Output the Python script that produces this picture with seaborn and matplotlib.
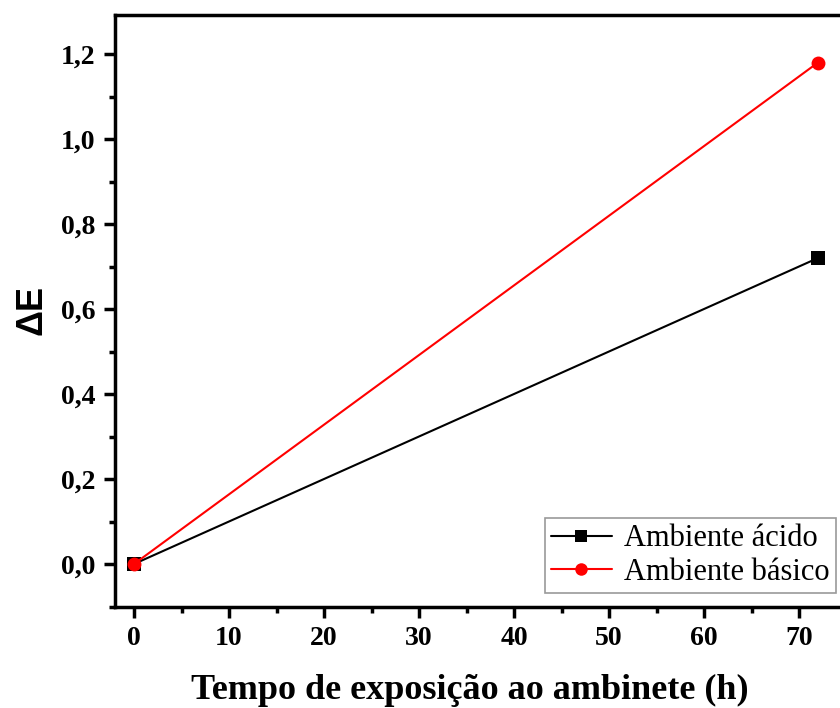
import numpy as np
import pandas as pd
import matplotlib
matplotlib.use("Agg")
import matplotlib.pyplot as plt
import seaborn as sns
from matplotlib.ticker import MultipleLocator, FuncFormatter

sns.set_theme(style="white")
plt.rcParams['font.family'] = ['Liberation Serif', 'DejaVu Serif']
plt.rcParams['text.color'] = 'black'
plt.rcParams['axes.labelcolor'] = 'black'
plt.rcParams['xtick.color'] = 'black'
plt.rcParams['ytick.color'] = 'black'

hours = [0, 72]
acido = [0.0, 0.72]
basico = [0.0, 1.18]
series_names = ["Ambiente ácido", "Ambiente básico"]
x_label = "Tempo de exposição ao ambinete (h)"
y_label = "ΔE"

df = pd.DataFrame({
    "t": hours + hours,
    "dE": acido + basico,
    "serie": [series_names[0]] * len(hours) + [series_names[1]] * len(hours),
})

fig = plt.figure(figsize=(8.4, 7.08), dpi=100)
ax = fig.add_axes([115/840, 1 - 606.5/708, (856 - 115)/840, (606.5 - 14.5)/708])

sns.lineplot(data=df, x="t", y="dE", hue="serie", style="serie",
             palette={series_names[0]: "black", series_names[1]: "#ff0000"},
             markers={series_names[0]: "s", series_names[1]: "o"},
             dashes=False, markersize=10, linewidth=1.5,
             markeredgewidth=0, ax=ax)

ax.set_xlim(-2, 76)
ax.set_ylim(-0.1, 1.293)
ax.xaxis.set_major_locator(MultipleLocator(10))
ax.xaxis.set_minor_locator(MultipleLocator(5))
ax.yaxis.set_major_locator(MultipleLocator(0.2))
ax.yaxis.set_minor_locator(MultipleLocator(0.1))
ax.yaxis.set_major_formatter(FuncFormatter(lambda v, p: f"{v:.1f}".replace(".", ",")))
ax.xaxis.set_major_formatter(FuncFormatter(lambda v, p: f"{v:.0f}"))

for s in ax.spines.values():
    s.set_linewidth(2.5)
    s.set_color("black")
ax.tick_params(which="major", direction="out", length=8, width=2.5,
               labelsize=20, bottom=True, left=True, pad=6, colors="black")
ax.tick_params(which="minor", direction="out", length=4, width=2.5,
               bottom=True, left=True, colors="black")
for lab in ax.get_xticklabels() + ax.get_yticklabels():
    lab.set_fontweight("bold")

ax.set_xlabel(x_label, fontsize=26, fontweight="bold")
ax.xaxis.set_label_coords((470 - 115) / 741, -(707 - 606.5) / 592, transform=ax.transAxes)
ax.xaxis.label.set_verticalalignment("bottom")
ax.set_ylabel(y_label, fontsize=26, fontweight="bold",
              family=["Liberation Sans", "DejaVu Sans"])
ax.yaxis.set_label_coords(-(115 - 14) / 741, (606.5 - 310) / 592, transform=ax.transAxes)
ax.yaxis.label.set_verticalalignment("top")

leg = ax.legend(loc="lower right", bbox_to_anchor=((836 - 115)/741, (606.5 - 593)/592),
                fontsize=22, frameon=True, fancybox=False, edgecolor="#808080",
                handlelength=2.0, handletextpad=0.4, borderpad=0.2,
                labelspacing=0.15, borderaxespad=0, markerscale=0.9)
leg.get_frame().set_linewidth(1.2)
for t in leg.get_texts():
    t.set_color("black")

fig.savefig("out.png", dpi=100)
